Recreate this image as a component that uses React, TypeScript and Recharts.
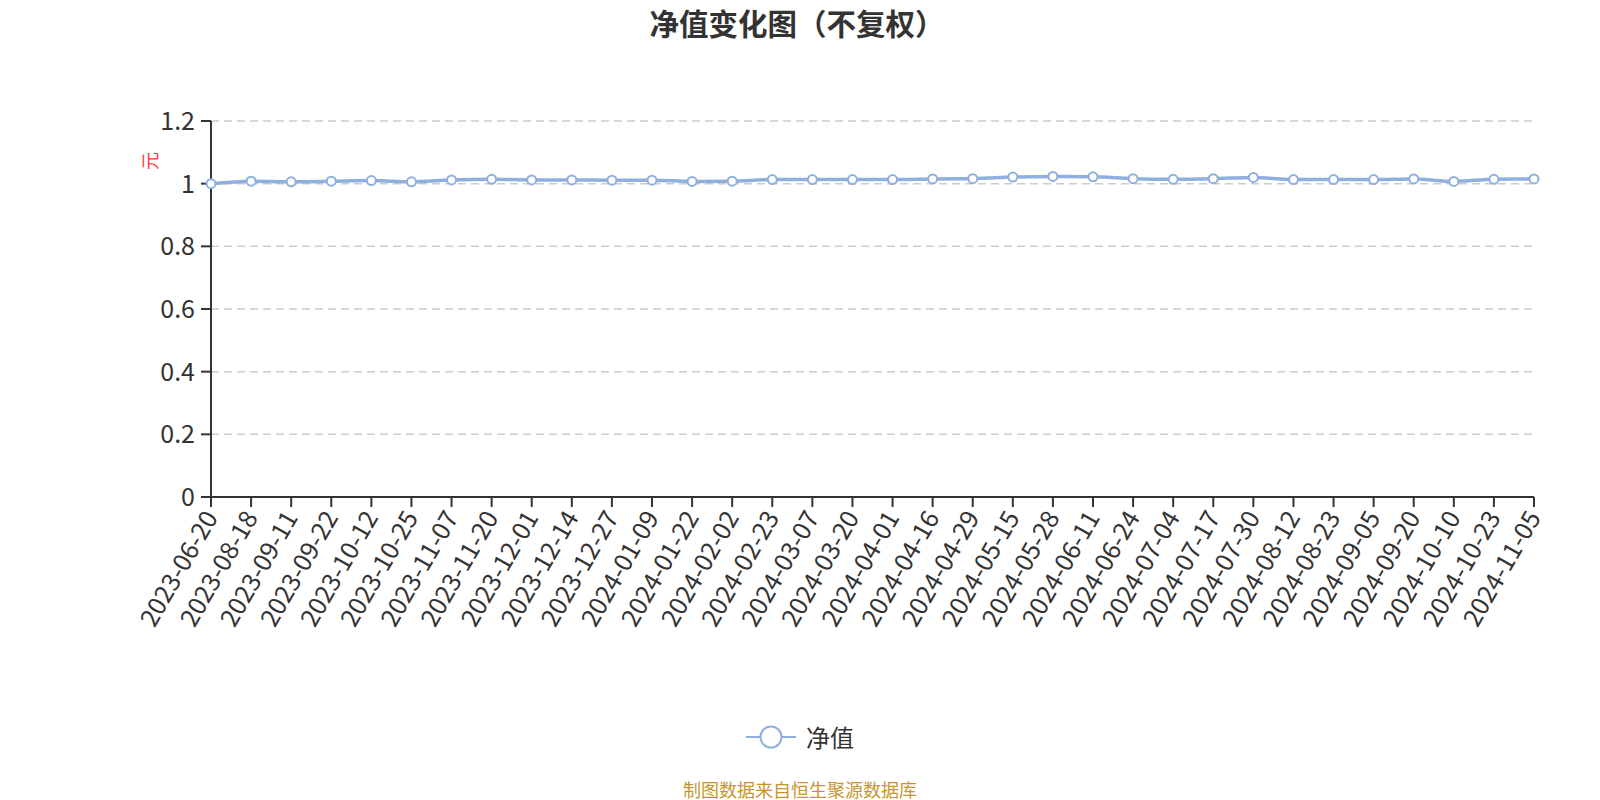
import React from 'react';
import { LineChart, Line, XAxis, YAxis, CartesianGrid } from 'recharts';

// 净值日期
const dates = [
  '2023-06-20', '2023-08-18', '2023-09-11', '2023-09-22', '2023-10-12', '2023-10-25',
  '2023-11-07', '2023-11-20', '2023-12-01', '2023-12-14', '2023-12-27', '2024-01-09',
  '2024-01-22', '2024-02-02', '2024-02-23', '2024-03-07', '2024-03-20', '2024-04-01',
  '2024-04-16', '2024-04-29', '2024-05-15', '2024-05-28', '2024-06-11', '2024-06-24',
  '2024-07-04', '2024-07-17', '2024-07-30', '2024-08-12', '2024-08-23', '2024-09-05',
  '2024-09-20', '2024-10-10', '2024-10-23', '2024-11-05',
];

// 单位净值（元）
const navValues = [
  1.000, 1.008, 1.006, 1.008, 1.010, 1.006,
  1.012, 1.014, 1.012, 1.012, 1.011, 1.011,
  1.007, 1.008, 1.013, 1.013, 1.013, 1.013,
  1.015, 1.016, 1.021, 1.023, 1.022, 1.016,
  1.014, 1.016, 1.020, 1.013, 1.013, 1.013,
  1.015, 1.007, 1.014, 1.015,
];

const yTicks = [0, 0.2, 0.4, 0.6, 0.8, 1, 1.2];

const LINE_COLOR = '#8fb0de';
const FONT = "'Microsoft YaHei', 'Noto Sans CJK SC', sans-serif";

const data = dates.map((d, i) => ({ date: d, nav: navValues[i] }));

function DateTick(props: any) {
  const { x, y, payload } = props;
  return (
    <g transform={`translate(${x},${y + 4})`}>
      <text
        x={0}
        y={0}
        dy="0.35em"
        textAnchor="end"
        transform="rotate(-60)"
        fill="#333"
        fontSize={25}
        fontFamily={FONT}
      >
        {payload.value}
      </text>
    </g>
  );
}

function UnitLabel() {
  return (
    <text
      x={149}
      y={161}
      textAnchor="middle"
      dominantBaseline="central"
      transform="rotate(-90 149 161)"
      fill="#f33"
      fontSize={18}
      fontFamily={FONT}
    >
      元
    </text>
  );
}

export default function App() {
  return (
    <div style={{ position: 'relative', width: 1600, height: 800, background: '#fff', fontFamily: FONT }}>
      <style>{'body{margin:0}'}</style>
      <div
        style={{
          position: 'absolute', top: 2, left: -3, width: 1600, textAlign: 'center',
          fontSize: 29.5, fontWeight: 'bold', color: '#333', lineHeight: '40px',
        }}
      >
        净值变化图（不复权）
      </div>
      <LineChart
        width={1600}
        height={800}
        data={data}
        margin={{ top: 121, right: 66, bottom: 0, left: 0 }}
      >
        <CartesianGrid vertical={false} stroke="#ccc" strokeDasharray="8 5" strokeWidth={1.5} />
        <XAxis
          dataKey="date"
          interval={0}
          height={303}
          tick={<DateTick />}
          tickSize={10}
          axisLine={{ stroke: '#333', strokeWidth: 2 }}
          tickLine={{ stroke: '#333', strokeWidth: 2 }}
        />
        <YAxis
          width={211}
          domain={[0, 1.2]}
          ticks={yTicks}
          tickSize={10}
          tickMargin={6}
          tickFormatter={(v) => String(v)}
          tick={{ fill: '#333', fontSize: 25, fontFamily: FONT }}
          axisLine={{ stroke: '#333', strokeWidth: 2 }}
          tickLine={{ stroke: '#333', strokeWidth: 2 }}
          label={{ content: <UnitLabel /> }}
        />
        <Line
          type="monotone"
          dataKey="nav"
          stroke={LINE_COLOR}
          strokeWidth={3.5}
          dot={{ r: 4.5, fill: '#fff', stroke: LINE_COLOR, strokeWidth: 2 }}
          isAnimationActive={false}
        />
      </LineChart>
      <div
        style={{
          position: 'absolute', top: 719, left: 0, width: 1600, display: 'flex',
          justifyContent: 'center', alignItems: 'center', gap: 10,
        }}
      >
        <svg width={50} height={30}>
          <line x1={0} y1={15} x2={50} y2={15} stroke={LINE_COLOR} strokeWidth={2} />
          <circle cx={25} cy={15} r={10.5} fill="#fff" stroke={LINE_COLOR} strokeWidth={2} />
        </svg>
        <span style={{ fontSize: 24, color: '#333' }}>净值</span>
      </div>
      <div
        style={{
          position: 'absolute', top: 777, left: 0, width: 1600, textAlign: 'center',
          fontSize: 18, color: '#c8952c', lineHeight: '24px',
        }}
      >
        制图数据来自恒生聚源数据库
      </div>
    </div>
  );
}
